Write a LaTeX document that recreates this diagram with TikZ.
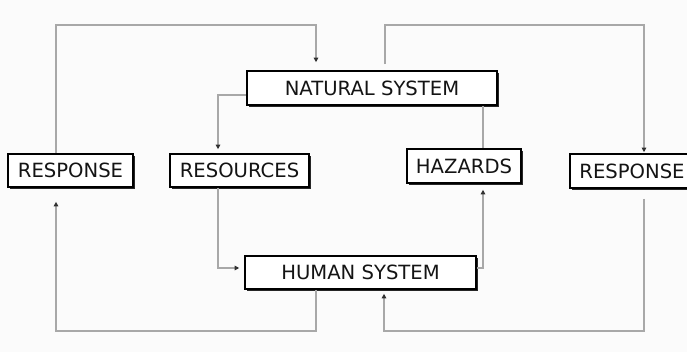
\documentclass[tikz,border=0pt]{standalone}
\usepackage{fontspec}
\setmainfont{DejaVu Sans}
\usetikzlibrary{arrows.meta,shadows}
\definecolor{linegray}{HTML}{A8A8A8}
\definecolor{tipgray}{HTML}{303030}
\definecolor{paper}{HTML}{FBFBFB}
\tikzset{
  sysbox/.style={draw=black, line width=1.6pt, fill=white, inner sep=0pt,
    font=\fontsize{19.6}{22}\selectfont, text=black!92,
    general shadow={fill=black!85, shadow xshift=2.2pt, shadow yshift=-2.2pt}},
  conn/.style={draw=linegray, line width=1.3pt},
  flow/.style={conn, -{Triangle[length=4.5pt,width=4.5pt,color=tipgray]}},
}
\begin{document}
\begin{tikzpicture}[x=1pt,y=-1pt]
  \fill[paper] (0,0) rectangle (687,352);
  \useasboundingbox (0,0) rectangle (687,352);

  % boxes
  \node[sysbox, minimum width=250pt, minimum height=34pt] (nat)  at (372,88)    {NATURAL SYSTEM};
  \node[sysbox, minimum width=125pt, minimum height=33pt] (resL) at (70.5,170.5) {RESPONSE};
  \node[sysbox, minimum width=139pt, minimum height=33pt] (res)  at (239.5,170.5) {RESOURCES};
  \node[sysbox, minimum width=114pt, minimum height=34pt] (haz)  at (464,166)   {HAZARDS};
  \node[sysbox, minimum width=124pt, minimum height=34pt] (resR) at (632,171)   {RESPONSE};
  \node[sysbox, minimum width=231pt, minimum height=33pt] (hum)  at (360.5,272.5) {HUMAN SYSTEM};

  % routing levels of the outer loops
  \coordinate (topY) at (0,25);
  \coordinate (botY) at (0,331);

  % response (left) feeds back into the natural system
  \draw[flow] ([xshift=-14.5pt]resL.north) -- ([xshift=-14.5pt]resL.north |- topY)
     -| ([xshift=-56pt,yshift=8pt]nat.north);
  % natural system provides resources
  \draw[flow] ([yshift=-7pt]nat.west) -| ([xshift=-21.5pt,yshift=4pt]res.north);
  % natural system drives the right response
  \draw[flow] ([xshift=13pt,yshift=6pt]nat.north) -- ([xshift=13pt]nat.north |- topY)
     -| ([xshift=12pt,yshift=1pt]resR.north);
  % natural system to hazards
  \draw[conn] ([xshift=111pt]nat.south) -- ([xshift=19pt]haz.north);
  % resources into the human system
  \draw[flow] ([xshift=-21.5pt]res.south) |- ([xshift=-5pt,yshift=4.5pt]hum.west);
  % human system raises hazards
  \draw[flow] ([yshift=4.5pt]hum.east) -| ([xshift=19pt,yshift=-6pt]haz.south);
  % human system to the left response
  \draw[flow] ([xshift=-44.5pt]hum.south) -- ([xshift=-44.5pt]hum.south |- botY)
     -| ([xshift=-14.5pt,yshift=-14pt]resL.south);
  % right response back to the human system
  \draw[flow] ([xshift=12pt,yshift=-10pt]resR.south) -- ([xshift=12pt]resR.south |- botY)
     -| ([xshift=23.5pt,yshift=-4pt]hum.south);
\end{tikzpicture}
\end{document}
